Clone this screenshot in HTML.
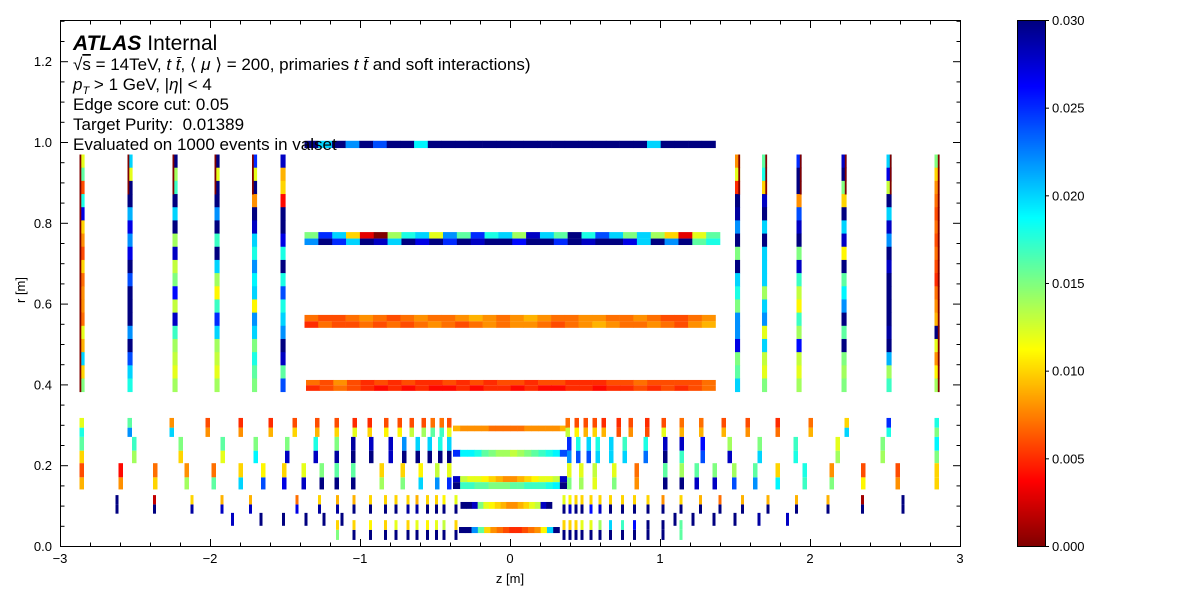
<!DOCTYPE html>
<html><head><meta charset="utf-8"><style>
body{margin:0;background:#fff}
svg{display:block;font-family:"Liberation Sans",sans-serif}
</style></head><body>
<svg id="chart" width="1200" height="600" viewBox="0 0 1200 600" xmlns="http://www.w3.org/2000/svg">
<rect width="1200" height="600" fill="#fff"/>
<g id="cells"></g>
<g id="axes"></g>
<g id="cbar"></g>
<g font-size="17" fill="#000">
<text x="73" y="50" font-size="21"><tspan font-weight="bold" font-style="italic">ATLAS</tspan> Internal</text>
<text x="73" y="70" xml:space="preserve">√<tspan text-decoration="overline">s</tspan> = 14TeV, <tspan font-style="italic">t t̄</tspan>, ⟨ <tspan font-style="italic">μ</tspan> ⟩ = 200, primaries <tspan font-style="italic">t t̄</tspan> and soft interactions)</text>
<text x="73" y="90" xml:space="preserve"><tspan font-style="italic">p</tspan><tspan font-size="11" dy="4" font-style="italic">T</tspan><tspan dy="-4"> &gt; 1 GeV, |</tspan><tspan font-style="italic">η</tspan>| &lt; 4</text>
<text x="73" y="110">Edge score cut: 0.05</text>
<text x="73" y="130" xml:space="preserve">Target Purity:  0.01389</text>
<text x="73" y="150">Evaluated on 1000 events in valset</text>
</g>
<text x="510" y="583" font-size="13" text-anchor="middle">z [m]</text>
<text x="25" y="290" font-size="13" text-anchor="middle" transform="rotate(-90 25 290)">r [m]</text>
</svg>
<script>
// ---- data ----
const endcapZ = [-2.87,-2.55,-2.25,-1.97,-1.72,-1.53, 1.50,1.68,1.91,2.21,2.51,2.83];
const endcapEdgeBins = [18,3,3,3,3,0, 3,3,3,3,3,18];
const endcapVals = [
[0.012,0.016,0.006,0.018,0.027,0.01,0.008,0.006,0.01,0.007,0.008,0.008,0.007,0.012,0.009,0.02,0.01,0.015],
[0.02,0.012,0.03,0.03,0.021,0.027,0.022,0.027,0.03,0.024,0.03,0.03,0.03,0.022,0.03,0.024,0.02,0.018],
[0.03,0.014,0.017,0.03,0.02,0.03,0.014,0.028,0.013,0.015,0.026,0.013,0.028,0.017,0.014,0.013,0.012,0.014],
[0.03,0.012,0.03,0.03,0.022,0.03,0.017,0.03,0.02,0.014,0.011,0.017,0.025,0.02,0.014,0.013,0.012,0.014],
[0.025,0.012,0.03,0.008,0.03,0.028,0.02,0.018,0.022,0.019,0.02,0.011,0.022,0.02,0.015,0.018,0.016,0.015],
[0.028,0.009,0.01,0.004,0.03,0.03,0.027,0.018,0.03,0.018,0.024,0.018,0.02,0.022,0.03,0.028,0.016,0.024],
[0.008,0.012,0.005,0.03,0.029,0.022,0.03,0.015,0.03,0.02,0.018,0.015,0.022,0.022,0.027,0.015,0.016,0.02],
[0.016,0.018,0.01,0.028,0.03,0.02,0.03,0.02,0.02,0.02,0.014,0.02,0.022,0.012,0.02,0.013,0.012,0.015],
[0.025,0.03,0.03,0.008,0.024,0.028,0.03,0.015,0.028,0.017,0.013,0.011,0.017,0.014,0.026,0.013,0.012,0.014],
[0.028,0.03,0.015,0.01,0.03,0.02,0.028,0.011,0.03,0.016,0.019,0.022,0.03,0.016,0.03,0.015,0.014,0.015],
[0.02,0.027,0.013,0.03,0.02,0.028,0.022,0.03,0.028,0.03,0.03,0.03,0.03,0.029,0.03,0.021,0.014,0.017],
[0.015,0.01,0.008,0.007,0.006,0.007,0.006,0.007,0.006,0.005,0.007,0.008,0.009,0.03,0.012,0.008,0.011,0.014]];

const p4Z = [-2.87,-2.55,-2.27,-2.03,-1.81,-1.61,-1.45,-1.30,-1.17,-1.05,-0.95,-0.84,-0.75,-0.67,-0.59,-0.53,-0.47,-0.42, 0.37,0.43,0.49,0.55,0.61,0.71,0.79,0.90,1.01,1.13,1.26,1.41,1.57,1.77,1.99,2.23,2.51,2.83];
const p4Top = [0.012,0.016,0.008,0.006,0.005,0.005,0.006,0.006,0.006,0.005,0.005,0.006,0.006,0.006,0.006,0.007,0.007,0.006, 0.007,0.006,0.006,0.006,0.005,0.005,0.006,0.005,0.006,0.007,0.007,0.006,0.006,0.005,0.007,0.01,0.025,0.018];
const p4Bot = [0.018,0.022,0.02,0.008,0.008,0.009,0.01,0.009,0.01,0.012,0.01,0.011,0.011,0.013,0.014,0.016,0.017,0.012, 0.013,0.011,0.009,0.01,0.009,0.006,0.008,0.006,0.012,0.009,0.009,0.009,0.008,0.007,0.009,0.02,0.018,0.015];
const p3Z = [-2.87,-2.52,-2.21,-1.93,-1.71,-1.50,-1.31,-1.17,-1.06,-0.94,-0.81,-0.72,-0.63,-0.55,-0.48,-0.42, 0.38,0.44,0.51,0.57,0.66,0.75,0.89,1.02,1.13,1.27,1.45,1.65,1.89,2.17,2.47,2.83];
const p3Top = [0.016,0.017,0.015,0.016,0.015,0.015,0.018,0.015,0.029,0.028,0.028,0.022,0.02,0.02,0.018,0.02, 0.025,0.018,0.02,0.018,0.02,0.017,0.018,0.028,0.028,0.026,0.014,0.015,0.017,0.012,0.015,0.019];
const p3Bot = [0.01,0.014,0.01,0.012,0.019,0.028,0.028,0.029,0.03,0.03,0.028,0.03,0.03,0.03,0.03,0.03, 0.022,0.024,0.024,0.02,0.02,0.02,0.023,0.03,0.017,0.024,0.028,0.02,0.018,0.014,0.014,0.015];
const p2Z = [-2.87,-2.61,-2.38,-2.17,-1.99,-1.81,-1.66,-1.52,-1.39,-1.27,-1.17,-1.06,-0.87,-0.73,-0.61,-0.50,-0.42, 0.38,0.46,0.55,0.68,0.83,1.02,1.13,1.23,1.35,1.48,1.62,1.77,1.95,2.13,2.34,2.57,2.83];
const p2Top = [0.006,0.004,0.007,0.008,0.007,0.01,0.011,0.01,0.012,0.015,0.016,0.016,0.01,0.01,0.011,0.013,0.012, 0.012,0.012,0.013,0.012,0.007,0.016,0.014,0.016,0.015,0.014,0.016,0.01,0.018,0.008,0.006,0.006,0.01];
const p2Bot = [0.009,0.008,0.01,0.014,0.016,0.02,0.024,0.027,0.028,0.03,0.03,0.03,0.014,0.015,0.02,0.022,0.025, 0.015,0.014,0.012,0.015,0.008,0.03,0.03,0.028,0.028,0.024,0.022,0.019,0.017,0.015,0.011,0.008,0.01];
const p1Z = [-2.63,-2.38,-2.13,-1.93,-1.74,-1.43,-1.28,-1.16,-1.05,-0.94,-0.84,-0.77,-0.69,-0.63,-0.56,-0.50,-0.45,-0.37, 0.35,0.39,0.43,0.47,0.53,0.59,0.66,0.74,0.82,0.91,1.01,1.13,1.26,1.39,1.54,1.71,1.90,2.11,2.34,2.61];
const p1Top = [0.03,0.002,0.01,0.009,0.009,0.007,0.01,0.009,0.009,0.01,0.01,0.01,0.01,0.009,0.01,0.01,0.011,0.012, 0.012,0.011,0.01,0.01,0.01,0.01,0.01,0.01,0.01,0.01,0.008,0.01,0.009,0.007,0.009,0.009,0.009,0.009,0.001,0.03];
const p1Bot = [0.03,0.03,0.029,0.028,0.028,0.027,0.029,0.029,0.03,0.03,0.03,0.03,0.029,0.029,0.03,0.03,0.03,0.03, 0.03,0.028,0.03,0.03,0.026,0.028,0.03,0.03,0.03,0.03,0.03,0.03,0.03,0.03,0.03,0.03,0.03,0.03,0.03,0.03];
const p0aZ = [-1.86,-1.67,-1.52,-1.37,-1.25,-1.13, 1.09,1.21,1.35,1.49,1.65,1.84];
const p0aVals = [0.028,0.03,0.03,0.03,0.03,0.03, 0.03,0.03,0.03,0.03,0.029,0.028];
const p0bZ = [-1.16,-1.05,-0.94,-0.84,-0.77,-0.69,-0.63,-0.56,-0.50,-0.45,-0.37, 0.35,0.39,0.43,0.47,0.53,0.59,0.66,0.74,0.82,0.91,1.01,1.13];
const p0bTop = [0.01,0.01,0.011,0.01,0.012,0.01,0.012,0.011,0.012,0.013,0.01, 0.01,0.01,0.01,0.012,0.012,0.014,0.02,0.017,0.026,0.03,0.03,0.016];
const p0bBot = [0.015,0.03,0.03,0.03,0.03,0.03,0.03,0.03,0.03,0.03,0.03, 0.03,0.03,0.03,0.03,0.03,0.03,0.03,0.03,0.03,0.03,0.03,0.016];

const s990 = [0.03,0.02,0.03,0.022,0.03,0.024,0.03,0.03,0.019,0.03,0.03,0.03,0.03,0.03,0.03,0.03,0.03,0.03,0.03,0.03,0.03,0.03,0.03,0.03,0.03,0.02,0.03,0.03,0.03,0.03];
const s770Top = [0.015,0.025,0.02,0.01,0.003,0.0,0.014,0.018,0.02,0.012,0.022,0.016,0.025,0.018,0.02,0.014,0.028,0.02,0.016,0.03,0.018,0.024,0.02,0.015,0.02,0.014,0.01,0.003,0.012,0.016];
const s770Bot = [0.022,0.03,0.025,0.02,0.03,0.028,0.02,0.03,0.027,0.03,0.025,0.03,0.028,0.03,0.03,0.026,0.03,0.03,0.025,0.03,0.028,0.03,0.03,0.027,0.02,0.03,0.022,0.03,0.016,0.018];
const s560Top = [0.007,0.006,0.006,0.007,0.008,0.007,0.006,0.007,0.008,0.007,0.007,0.008,0.009,0.008,0.007,0.008,0.009,0.008,0.007,0.007,0.008,0.008,0.007,0.007,0.008,0.007,0.006,0.006,0.007,0.008];
const s560Bot = [0.005,0.007,0.006,0.006,0.007,0.006,0.007,0.006,0.007,0.008,0.007,0.006,0.007,0.008,0.007,0.008,0.008,0.007,0.006,0.007,0.008,0.009,0.008,0.007,0.007,0.008,0.007,0.006,0.008,0.009];
const s400Top = [0.007,0.006,0.008,0.006,0.005,0.006,0.005,0.006,0.005,0.005,0.006,0.005,0.006,0.005,0.006,0.006,0.005,0.006,0.006,0.005,0.005,0.005,0.006,0.006,0.007,0.006,0.006,0.006,0.006,0.007];
const s400Bot = [0.005,0.006,0.007,0.006,0.005,0.004,0.005,0.004,0.005,0.004,0.004,0.005,0.004,0.005,0.005,0.004,0.005,0.004,0.004,0.005,0.005,0.004,0.005,0.005,0.006,0.005,0.006,0.005,0.006,0.007];
const b4 = [0.009,0.008,0.008,0.008,0.008,0.007,0.007,0.007,0.007,0.007,0.008,0.008,0.008,0.008,0.008,0.009];
const b3 = [0.025,0.019,0.019,0.018,0.016,0.015,0.014,0.014,0.013,0.014,0.015,0.016,0.017,0.018,0.019,0.024];
const b2Top = [0.028,0.013,0.012,0.012,0.011,0.01,0.009,0.008,0.008,0.009,0.01,0.011,0.012,0.012,0.013,0.028];
const b2Bot = [0.03,0.017,0.017,0.016,0.016,0.015,0.015,0.015,0.016,0.016,0.017,0.017,0.017,0.018,0.019,0.03];
const b1 = [0.03,0.03,0.028,0.015,0.012,0.011,0.01,0.009,0.008,0.008,0.009,0.01,0.012,0.013,0.028,0.03];
const b0 = [0.03,0.03,0.022,0.016,0.01,0.008,0.007,0.006,0.005,0.005,0.006,0.007,0.008,0.011,0.02,0.03];
const xTicks = [-3,-2,-1,0,1,2,3];
const yTicks = [0.0,0.2,0.4,0.6,0.8,1.0,1.2];
const cTicks = [0.000,0.005,0.010,0.015,0.020,0.025,0.030];

// ---- scales ----
const X = z => 510 + z*150;
const Y = r => 546 - r*404;
const VMAX = 0.03;
const CY = v => 546 - v/VMAX*526;
function jet(v){
  let t = 1 - Math.min(Math.max(v/VMAX,0),1);
  const c = k => Math.round(255*Math.min(1,Math.max(0,1.5-Math.abs(4*t-k))));
  return `rgb(${c(3)},${c(2)},${c(1)})`;
}
const NS = "http://www.w3.org/2000/svg";
const cells = document.getElementById('cells');
function cell(z0,z1,r0,r1,v,name){
  const el = document.createElementNS(NS,'rect');
  el.setAttribute('x', X(z0));
  el.setAttribute('y', Y(r1));
  el.setAttribute('width', Math.max(0.5, X(z1)-X(z0)));
  el.setAttribute('height', Math.max(0.5, Y(r0)-Y(r1)));
  el.setAttribute('fill', jet(v));
  
  
  cells.appendChild(el);
}
function strip(z0,z1,r0,r1,vals,name){
  const w=(z1-z0)/vals.length;
  vals.forEach((v,i)=>cell(z0+i*w,z0+(i+1)*w+0.002,r0,r1,v,name));
}
function stubs(zs,w,rLo,rMid,rHi,top,bot,name){
  zs.forEach((z,i)=>{
    if(bot) { cell(z,z+w,rLo,rMid,bot[i],name); cell(z,z+w,rMid,rHi,top[i],name); }
    else cell(z,z+w,rLo,rHi,top[i],name);
  });
}
// endcap columns
const ecR0=0.381, ecR1=0.968;
endcapZ.forEach((z,i)=>{
  const vals=endcapVals[i], n=vals.length, h=(ecR1-ecR0)/n;
  vals.forEach((v,j)=>cell(z,z+0.034,ecR1-(j+1)*h,ecR1-j*h+0.001,v,'endcap-cell'));
  const ez = z<0 ? z : z+0.022;
  for(let j=0;j<endcapEdgeBins[i];j++) cell(ez,ez+0.012,ecR1-(j+1)*h,ecR1-j*h+0.001,0,'endcap-edge-cell');
});
// barrel strips
strip(-1.37,1.37,0.985,1.003,s990,'strip-r099');
strip(-1.37,1.40,0.761,0.777,s770Top,'strip-r077-top');
strip(-1.37,1.40,0.745,0.761,s770Bot,'strip-r077-bottom');
strip(-1.37,1.37,0.556,0.572,s560Top,'strip-r056-top');
strip(-1.37,1.37,0.54,0.556,s560Bot,'strip-r056-bottom');
strip(-1.36,1.37,0.398,0.411,s400Top,'strip-r040-top');
strip(-1.36,1.37,0.384,0.398,s400Bot,'strip-r040-bottom');
strip(-0.38,0.38,0.284,0.298,b4,'pixel-barrel-4');
strip(-0.38,0.38,0.221,0.238,b3,'pixel-barrel-3');
strip(-0.38,0.38,0.158,0.173,b2Top,'pixel-barrel-2-top');
strip(-0.38,0.38,0.141,0.158,b2Bot,'pixel-barrel-2-bottom');
strip(-0.33,0.28,0.092,0.109,b1,'pixel-barrel-1');
strip(-0.34,0.33,0.032,0.047,b0,'pixel-barrel-0');
// pixel rings
stubs(p4Z,0.03,0.270,0.293,0.317,p4Top,p4Bot,'ring-l4');
stubs(p3Z,0.03,0.205,0.236,0.270,p3Top,p3Bot,'ring-l3');
stubs(p2Z,0.03,0.140,0.170,0.205,p2Top,p2Bot,'ring-l2');
stubs(p1Z,0.02,0.080,0.103,0.126,p1Top,p1Bot,'ring-l1');
stubs(p0aZ,0.02,0.050,0,0.082,p0aVals,null,'ring-l0a');
stubs(p0bZ,0.02,0.015,0.040,0.064,p0bTop,p0bBot,'ring-l0b');

// ---- axes ----
const axes=document.getElementById('axes');
function line(x1,y1,x2,y2,name){
  const el=document.createElementNS(NS,'line');
  el.setAttribute('x1',x1);el.setAttribute('y1',y1);el.setAttribute('x2',x2);el.setAttribute('y2',y2);
  el.setAttribute('stroke','#000');el.setAttribute('stroke-width','1');
  
  
  axes.appendChild(el);
}
function label(g,x,y,txt,anchor,name){
  const el=document.createElementNS(NS,'text');
  el.setAttribute('x',x);el.setAttribute('y',y);el.setAttribute('font-size','13');
  el.setAttribute('text-anchor',anchor);el.textContent=txt;
  
  
  g.appendChild(el);
}
const frame=document.createElementNS(NS,'rect');
frame.setAttribute('x',60.5);frame.setAttribute('y',20.5);frame.setAttribute('width',900);frame.setAttribute('height',526);
frame.setAttribute('fill','none');frame.setAttribute('stroke','#000');


axes.appendChild(frame);
for(let k=-15;k<=15;k++){
  const x=X(k*0.2)+0.5, major=(k%5===0);
  const L=major?7:3.5;
  line(x,546,x,546-L,'x-tick');line(x,21,x,21+L,'x-tick');
}
xTicks.forEach(t=>label(axes,X(t),563,(t<0?'\u2212':'')+Math.abs(t),'middle','x-tick-label'));
for(let k=0;k<=26;k++){
  const y=Y(k*0.05)+0.5, major=(k%4===0);
  const L=major?7:3.5;
  if(y<20)continue;
  line(61,y,61+L,y,'y-tick');line(960,y,960-L,y,'y-tick');
}
yTicks.forEach(t=>label(axes,52,Y(t)+5,t.toFixed(1),'end','y-tick-label'));

// ---- colorbar ----
const cb=document.getElementById('cbar');
for(let i=0;i<263;i++){
  const v0=i/263*VMAX, v1=(i+1)/263*VMAX;
  const el=document.createElementNS(NS,'rect');
  el.setAttribute('x',1017);el.setAttribute('y',CY(v1));el.setAttribute('width',28);el.setAttribute('height',CY(v0)-CY(v1)+0.6);
  el.setAttribute('fill',jet((v0+v1)/2));
  
  
  cb.appendChild(el);
}
const cf=document.createElementNS(NS,'rect');
cf.setAttribute('x',1017.5);cf.setAttribute('y',20.5);cf.setAttribute('width',28);cf.setAttribute('height',526);
cf.setAttribute('fill','none');cf.setAttribute('stroke','#000');


cb.appendChild(cf);
cTicks.forEach(t=>{
  const y=CY(t)+0.5;
  const el=document.createElementNS(NS,'line');
  el.setAttribute('x1',1045);el.setAttribute('x2',1049);el.setAttribute('y1',y);el.setAttribute('y2',y);el.setAttribute('stroke','#000');
  
  
  cb.appendChild(el);
  label(cb,1052,CY(t)+5,t.toFixed(3),'start','colorbar-tick-label');
});
</script>
</body></html>
